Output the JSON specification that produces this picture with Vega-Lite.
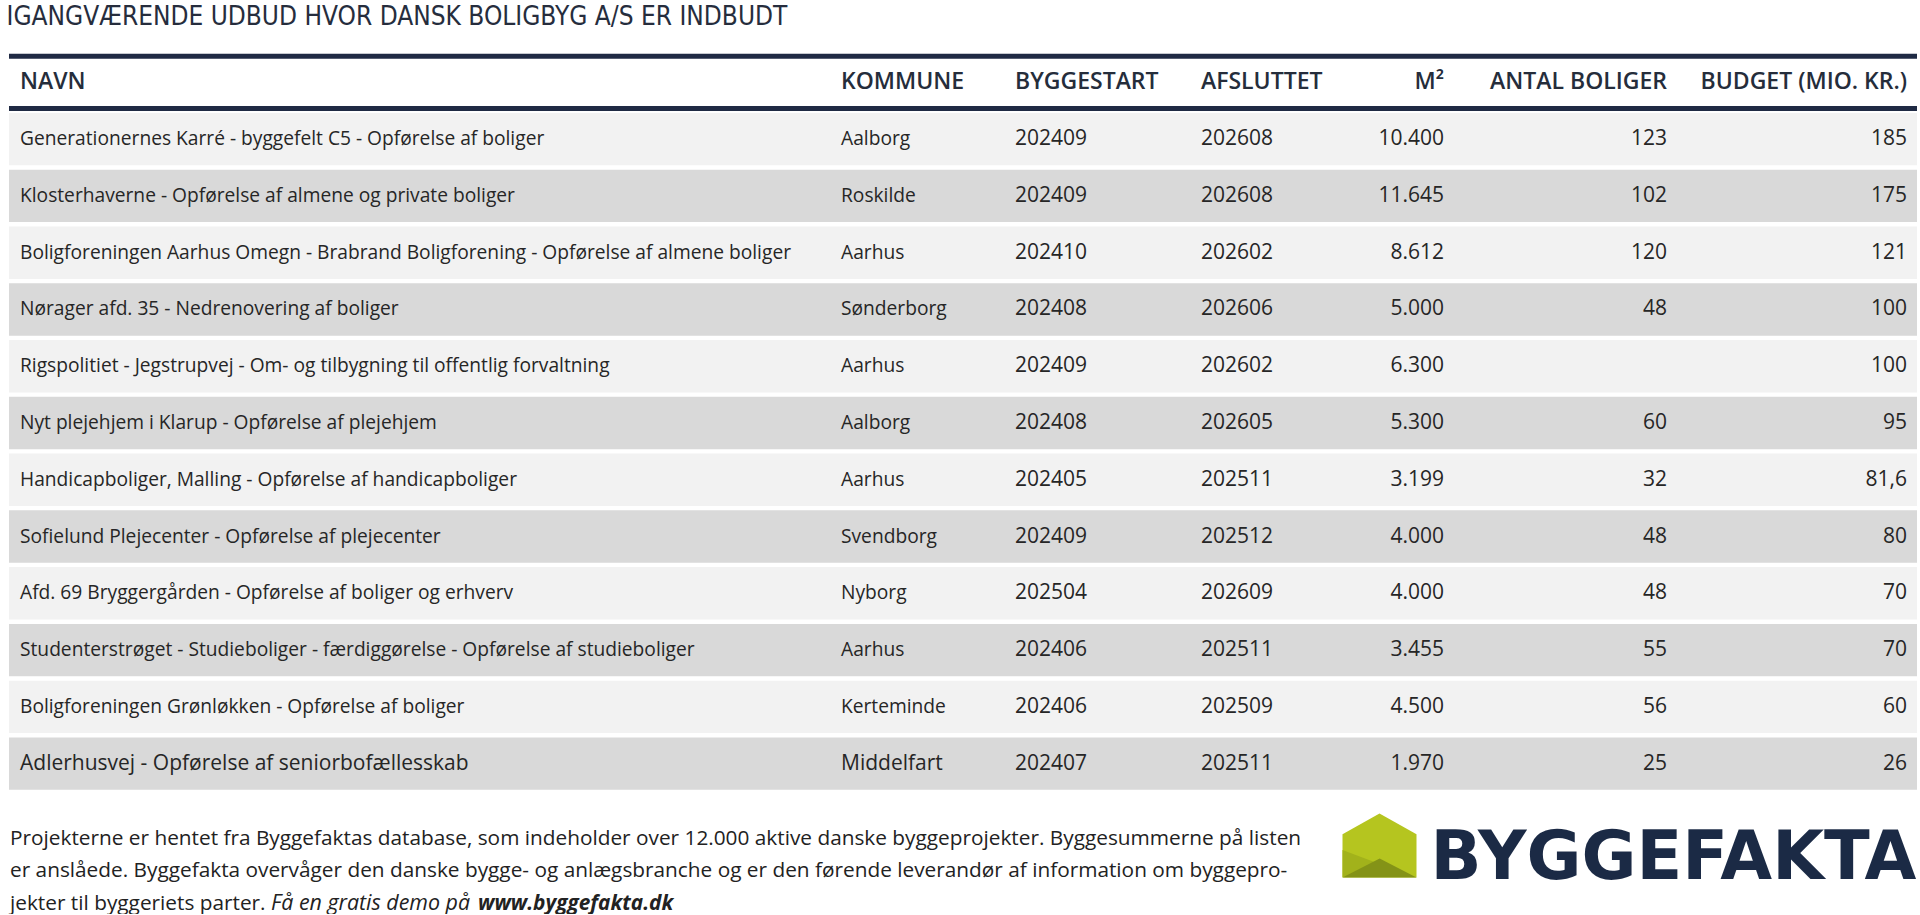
{
  "$schema": "https://vega.github.io/schema/vega-lite/v6.json",
  "background": "white",
  "padding": {"left": 6, "top": 3, "right": 0, "bottom": 0},
  "title": {"text": "IGANGVÆRENDE UDBUD HVOR DANSK BOLIGBYG A/S ER INDBUDT", "anchor": "start", "font": "Liberation Sans Narrow, DejaVu Sans Condensed, Open Sans", "fontSize": 26, "fontWeight": "normal", "color": "#262d3d", "offset": 24},
  "datasets": {
    "rows": [
      {"rank": 1, "navn": "Generationernes Karré - byggefelt C5 - Opførelse af boliger", "kommune": "Aalborg", "start": "202409", "slut": "202608", "m2": 10400, "antal": 123, "budget": 185},
      {"rank": 2, "navn": "Klosterhaverne - Opførelse af almene og private boliger", "kommune": "Roskilde", "start": "202409", "slut": "202608", "m2": 11645, "antal": 102, "budget": 175},
      {"rank": 3, "navn": "Boligforeningen Aarhus Omegn - Brabrand Boligforening - Opførelse af almene boliger", "kommune": "Aarhus", "start": "202410", "slut": "202602", "m2": 8612, "antal": 120, "budget": 121},
      {"rank": 4, "navn": "Nørager afd. 35 - Nedrenovering af boliger", "kommune": "Sønderborg", "start": "202408", "slut": "202606", "m2": 5000, "antal": 48, "budget": 100},
      {"rank": 5, "navn": "Rigspolitiet - Jegstrupvej - Om- og tilbygning til offentlig forvaltning", "kommune": "Aarhus", "start": "202409", "slut": "202602", "m2": 6300, "antal": null, "budget": 100},
      {"rank": 6, "navn": "Nyt plejehjem i Klarup - Opførelse af plejehjem", "kommune": "Aalborg", "start": "202408", "slut": "202605", "m2": 5300, "antal": 60, "budget": 95},
      {"rank": 7, "navn": "Handicapboliger, Malling - Opførelse af handicapboliger", "kommune": "Aarhus", "start": "202405", "slut": "202511", "m2": 3199, "antal": 32, "budget": 81.6},
      {"rank": 8, "navn": "Sofielund Plejecenter - Opførelse af plejecenter", "kommune": "Svendborg", "start": "202409", "slut": "202512", "m2": 4000, "antal": 48, "budget": 80},
      {"rank": 9, "navn": "Afd. 69 Bryggergården - Opførelse af boliger og erhverv", "kommune": "Nyborg", "start": "202504", "slut": "202609", "m2": 4000, "antal": 48, "budget": 70},
      {"rank": 10, "navn": "Studenterstrøget - Studieboliger - færdiggørelse - Opførelse af studieboliger", "kommune": "Aarhus", "start": "202406", "slut": "202511", "m2": 3455, "antal": 55, "budget": 70},
      {"rank": 11, "navn": "Boligforeningen Grønløkken - Opførelse af boliger", "kommune": "Kerteminde", "start": "202406", "slut": "202509", "m2": 4500, "antal": 56, "budget": 60},
      {"rank": 12, "navn": "Adlerhusvej - Opførelse af seniorbofællesskab", "kommune": "Middelfart", "start": "202407", "slut": "202511", "m2": 1970, "antal": 25, "budget": 26}
    ],
    "footer": [
      {"line": 1, "text": "Projekterne er hentet fra Byggefaktas database, som indeholder over 12.000 aktive danske byggeprojekter. Byggesummerne på listen"},
      {"line": 2, "text": "er anslåede. Byggefakta overvåger den danske bygge- og anlægsbranche og er den førende leverandør af information om byggepro-"},
      {"line": 3, "text": "jekter til byggeriets parter."}
    ]
  },
  "vconcat": [
    {
      "hconcat": [
        {
          "width": 821, "height": 738,
          "layer": [
            {"data": {"name": "rows"}, "mark": {"type": "rect"}, "encoding": {"y": {"field": "rank", "type": "ordinal", "scale": {"domain": [0,1,2,3,4,5,6,7,8,9,10,11,12], "paddingInner": 0.0775, "paddingOuter": 0.03875}, "axis": null}, "x": {"datum": 0, "type": "quantitative", "scale": {"domain": [0, 1]}, "axis": null}, "x2": {"datum": 1}, "color": {"condition": {"test": "datum.rank % 2 == 1", "value": "#f2f2f2"}, "value": "#d9d9d9"}}},
            {"data": {"values": [{}]}, "mark": {"type": "rule", "color": "#1f2a44", "strokeWidth": 5}, "encoding": {"y": {"datum": 0, "type": "ordinal", "bandPosition": 0}}},
            {"data": {"values": [{}]}, "mark": {"type": "rule", "color": "#1f2a44", "strokeWidth": 5}, "encoding": {"y": {"datum": 0, "type": "ordinal", "bandPosition": 1}}},
            {"data": {"values": [{}]}, "mark": {"type": "text", "align": "left", "baseline": "middle", "dx": 11, "font": "Open Sans", "fontSize": 23, "fontWeight": 600, "color": "#252d3b"}, "encoding": {"y": {"datum": 0, "type": "ordinal"}, "x": {"datum": 0, "type": "quantitative"}, "text": {"value": "NAVN"}}},
            {"data": {"name": "rows"}, "mark": {"type": "text", "align": "left", "baseline": "middle", "dx": 11, "font": "Open Sans", "color": "#262626"}, "encoding": {"y": {"field": "rank", "type": "ordinal"}, "x": {"datum": 0, "type": "quantitative"}, "text": {"field": "navn"}, "size": {"condition": {"test": "datum.rank == 12", "value": 21}, "value": 19.2}}}
          ]
        },
        {
          "width": 174, "height": 738,
          "layer": [
            {"data": {"name": "rows"}, "mark": {"type": "rect"}, "encoding": {"y": {"field": "rank", "type": "ordinal", "scale": {"domain": [0,1,2,3,4,5,6,7,8,9,10,11,12], "paddingInner": 0.0775, "paddingOuter": 0.03875}, "axis": null}, "x": {"datum": 0, "type": "quantitative", "scale": {"domain": [0, 1]}, "axis": null}, "x2": {"datum": 1}, "color": {"condition": {"test": "datum.rank % 2 == 1", "value": "#f2f2f2"}, "value": "#d9d9d9"}}},
            {"data": {"values": [{}]}, "mark": {"type": "rule", "color": "#1f2a44", "strokeWidth": 5}, "encoding": {"y": {"datum": 0, "type": "ordinal", "bandPosition": 0}}},
            {"data": {"values": [{}]}, "mark": {"type": "rule", "color": "#1f2a44", "strokeWidth": 5}, "encoding": {"y": {"datum": 0, "type": "ordinal", "bandPosition": 1}}},
            {"data": {"values": [{}]}, "mark": {"type": "text", "align": "left", "baseline": "middle", "dx": 11, "font": "Open Sans", "fontSize": 23, "fontWeight": 600, "color": "#252d3b"}, "encoding": {"y": {"datum": 0, "type": "ordinal"}, "x": {"datum": 0, "type": "quantitative"}, "text": {"value": "KOMMUNE"}}},
            {"data": {"name": "rows"}, "mark": {"type": "text", "align": "left", "baseline": "middle", "dx": 11, "font": "Open Sans", "color": "#262626"}, "encoding": {"y": {"field": "rank", "type": "ordinal"}, "x": {"datum": 0, "type": "quantitative"}, "text": {"field": "kommune"}, "size": {"condition": {"test": "datum.rank == 12", "value": 21}, "value": 19.2}}}
          ]
        },
        {
          "width": 186, "height": 738,
          "layer": [
            {"data": {"name": "rows"}, "mark": {"type": "rect"}, "encoding": {"y": {"field": "rank", "type": "ordinal", "scale": {"domain": [0,1,2,3,4,5,6,7,8,9,10,11,12], "paddingInner": 0.0775, "paddingOuter": 0.03875}, "axis": null}, "x": {"datum": 0, "type": "quantitative", "scale": {"domain": [0, 1]}, "axis": null}, "x2": {"datum": 1}, "color": {"condition": {"test": "datum.rank % 2 == 1", "value": "#f2f2f2"}, "value": "#d9d9d9"}}},
            {"data": {"values": [{}]}, "mark": {"type": "rule", "color": "#1f2a44", "strokeWidth": 5}, "encoding": {"y": {"datum": 0, "type": "ordinal", "bandPosition": 0}}},
            {"data": {"values": [{}]}, "mark": {"type": "rule", "color": "#1f2a44", "strokeWidth": 5}, "encoding": {"y": {"datum": 0, "type": "ordinal", "bandPosition": 1}}},
            {"data": {"values": [{}]}, "mark": {"type": "text", "align": "left", "baseline": "middle", "dx": 11, "font": "Open Sans", "fontSize": 23, "fontWeight": 600, "color": "#252d3b"}, "encoding": {"y": {"datum": 0, "type": "ordinal"}, "x": {"datum": 0, "type": "quantitative"}, "text": {"value": "BYGGESTART"}}},
            {"data": {"name": "rows"}, "mark": {"type": "text", "align": "left", "baseline": "middle", "dx": 11, "font": "Open Sans", "fontSize": 21, "color": "#262626"}, "encoding": {"y": {"field": "rank", "type": "ordinal"}, "x": {"datum": 0, "type": "quantitative"}, "text": {"field": "start"}}}
          ]
        },
        {
          "width": 143, "height": 738,
          "layer": [
            {"data": {"name": "rows"}, "mark": {"type": "rect"}, "encoding": {"y": {"field": "rank", "type": "ordinal", "scale": {"domain": [0,1,2,3,4,5,6,7,8,9,10,11,12], "paddingInner": 0.0775, "paddingOuter": 0.03875}, "axis": null}, "x": {"datum": 0, "type": "quantitative", "scale": {"domain": [0, 1]}, "axis": null}, "x2": {"datum": 1}, "color": {"condition": {"test": "datum.rank % 2 == 1", "value": "#f2f2f2"}, "value": "#d9d9d9"}}},
            {"data": {"values": [{}]}, "mark": {"type": "rule", "color": "#1f2a44", "strokeWidth": 5}, "encoding": {"y": {"datum": 0, "type": "ordinal", "bandPosition": 0}}},
            {"data": {"values": [{}]}, "mark": {"type": "rule", "color": "#1f2a44", "strokeWidth": 5}, "encoding": {"y": {"datum": 0, "type": "ordinal", "bandPosition": 1}}},
            {"data": {"values": [{}]}, "mark": {"type": "text", "align": "left", "baseline": "middle", "dx": 11, "font": "Open Sans", "fontSize": 23, "fontWeight": 600, "color": "#252d3b"}, "encoding": {"y": {"datum": 0, "type": "ordinal"}, "x": {"datum": 0, "type": "quantitative"}, "text": {"value": "AFSLUTTET"}}},
            {"data": {"name": "rows"}, "mark": {"type": "text", "align": "left", "baseline": "middle", "dx": 11, "font": "Open Sans", "fontSize": 21, "color": "#262626"}, "encoding": {"y": {"field": "rank", "type": "ordinal"}, "x": {"datum": 0, "type": "quantitative"}, "text": {"field": "slut"}}}
          ]
        },
        {
          "width": 121, "height": 738,
          "layer": [
            {"data": {"name": "rows"}, "mark": {"type": "rect"}, "encoding": {"y": {"field": "rank", "type": "ordinal", "scale": {"domain": [0,1,2,3,4,5,6,7,8,9,10,11,12], "paddingInner": 0.0775, "paddingOuter": 0.03875}, "axis": null}, "x": {"datum": 0, "type": "quantitative", "scale": {"domain": [0, 1]}, "axis": null}, "x2": {"datum": 1}, "color": {"condition": {"test": "datum.rank % 2 == 1", "value": "#f2f2f2"}, "value": "#d9d9d9"}}},
            {"data": {"values": [{}]}, "mark": {"type": "rule", "color": "#1f2a44", "strokeWidth": 5}, "encoding": {"y": {"datum": 0, "type": "ordinal", "bandPosition": 0}}},
            {"data": {"values": [{}]}, "mark": {"type": "rule", "color": "#1f2a44", "strokeWidth": 5}, "encoding": {"y": {"datum": 0, "type": "ordinal", "bandPosition": 1}}},
            {"data": {"values": [{}]}, "mark": {"type": "text", "align": "right", "baseline": "middle", "dx": -10, "font": "Open Sans", "fontSize": 23, "fontWeight": 600, "color": "#252d3b"}, "encoding": {"y": {"datum": 0, "type": "ordinal"}, "x": {"datum": 1, "type": "quantitative"}, "text": {"value": "M²"}}},
            {"data": {"name": "rows"}, "mark": {"type": "text", "align": "right", "baseline": "middle", "dx": -10, "font": "Open Sans", "fontSize": 21, "color": "#262626"}, "encoding": {"y": {"field": "rank", "type": "ordinal"}, "x": {"datum": 1, "type": "quantitative"}, "text": {"field": "m2", "type": "quantitative", "format": ",d"}}}
          ]
        },
        {
          "width": 223, "height": 738,
          "layer": [
            {"data": {"name": "rows"}, "mark": {"type": "rect"}, "encoding": {"y": {"field": "rank", "type": "ordinal", "scale": {"domain": [0,1,2,3,4,5,6,7,8,9,10,11,12], "paddingInner": 0.0775, "paddingOuter": 0.03875}, "axis": null}, "x": {"datum": 0, "type": "quantitative", "scale": {"domain": [0, 1]}, "axis": null}, "x2": {"datum": 1}, "color": {"condition": {"test": "datum.rank % 2 == 1", "value": "#f2f2f2"}, "value": "#d9d9d9"}}},
            {"data": {"values": [{}]}, "mark": {"type": "rule", "color": "#1f2a44", "strokeWidth": 5}, "encoding": {"y": {"datum": 0, "type": "ordinal", "bandPosition": 0}}},
            {"data": {"values": [{}]}, "mark": {"type": "rule", "color": "#1f2a44", "strokeWidth": 5}, "encoding": {"y": {"datum": 0, "type": "ordinal", "bandPosition": 1}}},
            {"data": {"values": [{}]}, "mark": {"type": "text", "align": "right", "baseline": "middle", "dx": -10, "font": "Open Sans", "fontSize": 23, "fontWeight": 600, "color": "#252d3b"}, "encoding": {"y": {"datum": 0, "type": "ordinal"}, "x": {"datum": 1, "type": "quantitative"}, "text": {"value": "ANTAL BOLIGER"}}},
            {"data": {"name": "rows"}, "transform": [{"filter": "isValid(datum.antal)"}], "mark": {"type": "text", "align": "right", "baseline": "middle", "dx": -10, "font": "Open Sans", "fontSize": 21, "color": "#262626"}, "encoding": {"y": {"field": "rank", "type": "ordinal"}, "x": {"datum": 1, "type": "quantitative"}, "text": {"field": "antal", "type": "quantitative", "format": "d"}}}
          ]
        },
        {
          "width": 240, "height": 738,
          "layer": [
            {"data": {"name": "rows"}, "mark": {"type": "rect"}, "encoding": {"y": {"field": "rank", "type": "ordinal", "scale": {"domain": [0,1,2,3,4,5,6,7,8,9,10,11,12], "paddingInner": 0.0775, "paddingOuter": 0.03875}, "axis": null}, "x": {"datum": 0, "type": "quantitative", "scale": {"domain": [0, 1]}, "axis": null}, "x2": {"datum": 1}, "color": {"condition": {"test": "datum.rank % 2 == 1", "value": "#f2f2f2"}, "value": "#d9d9d9"}}},
            {"data": {"values": [{}]}, "mark": {"type": "rule", "color": "#1f2a44", "strokeWidth": 5}, "encoding": {"y": {"datum": 0, "type": "ordinal", "bandPosition": 0}}},
            {"data": {"values": [{}]}, "mark": {"type": "rule", "color": "#1f2a44", "strokeWidth": 5}, "encoding": {"y": {"datum": 0, "type": "ordinal", "bandPosition": 1}}},
            {"data": {"values": [{}]}, "mark": {"type": "text", "align": "right", "baseline": "middle", "dx": -10, "font": "Open Sans", "fontSize": 23, "fontWeight": 600, "color": "#252d3b"}, "encoding": {"y": {"datum": 0, "type": "ordinal"}, "x": {"datum": 1, "type": "quantitative"}, "text": {"value": "BUDGET (MIO. KR.)"}}},
            {"data": {"name": "rows"}, "mark": {"type": "text", "align": "right", "baseline": "middle", "dx": -10, "font": "Open Sans", "fontSize": 21, "color": "#262626"}, "encoding": {"y": {"field": "rank", "type": "ordinal"}, "x": {"datum": 1, "type": "quantitative"}, "text": {"field": "budget", "type": "quantitative", "format": ".4~r"}}}
          ]
        }
      ],
      "spacing": 0,
      "bounds": "flush"
    },
    {
      "hconcat": [
        {
          "width": 1320, "height": 97,
          "layer": [
            {"data": {"name": "footer"}, "mark": {"type": "text", "align": "left", "baseline": "alphabetic", "dx": 1, "font": "Open Sans", "fontSize": 20.8, "color": "#222222"}, "encoding": {"y": {"field": "line", "type": "ordinal", "bandPosition": 1, "scale": {"domain": [1, 2, 3], "paddingInner": 0, "paddingOuter": 0.2963, "align": 1}, "axis": null}, "x": {"datum": 0, "type": "quantitative", "scale": {"domain": [0, 1]}, "axis": null}, "text": {"field": "text"}}},
            {"data": {"values": [{}]}, "mark": {"type": "text", "align": "left", "baseline": "alphabetic", "dx": 262, "font": "Open Sans", "fontSize": 21.4, "fontStyle": "italic", "color": "#222222"}, "encoding": {"y": {"datum": 3, "type": "ordinal", "bandPosition": 1}, "x": {"datum": 0, "type": "quantitative"}, "text": {"value": "Få en gratis demo på"}}},
            {"data": {"values": [{}]}, "mark": {"type": "text", "align": "left", "baseline": "alphabetic", "dx": 469, "font": "Open Sans", "fontSize": 20.8, "fontStyle": "italic", "fontWeight": "bold", "color": "#222222"}, "encoding": {"y": {"datum": 3, "type": "ordinal", "bandPosition": 1}, "x": {"datum": 0, "type": "quantitative"}, "text": {"value": "www.byggefakta.dk"}}}
          ]
        },
        {
          "width": 101, "height": 66,
          "data": {"values": [{}]},
          "layer": [
            {"mark": {"type": "point", "shape": "M0,-0.863L1,-0.307L1,0.863L-1,0.863L-1,-0.307Z", "size": 5476, "filled": true, "opacity": 1, "color": "#b5c51f"}, "encoding": {}},
            {"mark": {"type": "point", "shape": "M-1,0.123L0.096,0.534L-1,0.855Z", "size": 5476, "filled": true, "opacity": 1, "color": "#a2b21b"}, "encoding": {}},
            {"mark": {"type": "point", "shape": "M-1,0.863L0.005,0.351L1,0.863Z", "size": 5476, "filled": true, "opacity": 1, "color": "#849317"}, "encoding": {}}
          ]
        },
        {
          "width": 487, "height": 92,
          "data": {"values": [{}]},
          "mark": {"type": "text", "align": "center", "baseline": "middle", "font": "DejaVu Sans", "fontWeight": "bold", "fontSize": 67, "color": "#1b2a45", "text": "BYGGEFAKTA"},
          "encoding": {}
        }
      ],
      "spacing": 0,
      "bounds": "flush"
    }
  ],
  "spacing": 20.5,
  "config": {
    "view": {"stroke": null},
    "locale": {"number": {"decimal": ",", "thousands": ".", "grouping": [3], "currency": ["", " kr."]}}
  }
}
